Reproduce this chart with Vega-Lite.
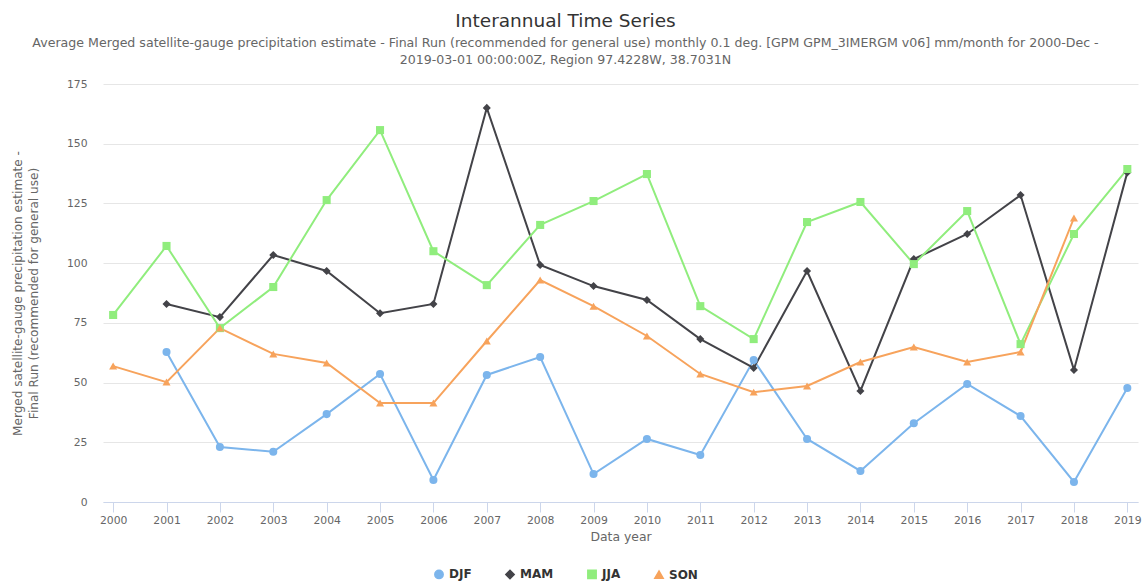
{
  "$schema": "https://vega.github.io/schema/vega-lite/v6.json",
  "autosize": "none",
  "width": 1035,
  "height": 418,
  "padding": {"left": 103, "top": 84, "right": 6, "bottom": 81},
  "background": "white",
  "config": {
    "font": "DejaVu Sans",
    "view": {"stroke": null}
  },
  "title": {
    "text": "Interannual Time Series",
    "subtitle": ["Average Merged satellite-gauge precipitation estimate - Final Run (recommended for general use) monthly 0.1 deg. [GPM GPM_3IMERGM v06] mm/month for 2000-Dec -", "2019-03-01 00:00:00Z, Region 97.4228W, 38.7031N"],
    "anchor": "middle",
    "dx": -55,
    "offset": 11,
    "font": "DejaVu Sans",
    "fontSize": 18.5,
    "fontWeight": "normal",
    "color": "#333333",
    "subtitleFont": "DejaVu Sans",
    "subtitleFontSize": 12.6,
    "subtitleColor": "#666666",
    "subtitlePadding": 7,
    "subtitleLineHeight": 17
  },
  "data": {
    "values": [
      {"year": 2001, "season": "DJF", "value": 62.8},
      {"year": 2002, "season": "DJF", "value": 23.0},
      {"year": 2003, "season": "DJF", "value": 21.0},
      {"year": 2004, "season": "DJF", "value": 36.8},
      {"year": 2005, "season": "DJF", "value": 53.6},
      {"year": 2006, "season": "DJF", "value": 9.2},
      {"year": 2007, "season": "DJF", "value": 53.2},
      {"year": 2008, "season": "DJF", "value": 60.7},
      {"year": 2009, "season": "DJF", "value": 11.7},
      {"year": 2010, "season": "DJF", "value": 26.4},
      {"year": 2011, "season": "DJF", "value": 19.7},
      {"year": 2012, "season": "DJF", "value": 59.4},
      {"year": 2013, "season": "DJF", "value": 26.4},
      {"year": 2014, "season": "DJF", "value": 13.0},
      {"year": 2015, "season": "DJF", "value": 33.0},
      {"year": 2016, "season": "DJF", "value": 49.4},
      {"year": 2017, "season": "DJF", "value": 36.0},
      {"year": 2018, "season": "DJF", "value": 8.4},
      {"year": 2019, "season": "DJF", "value": 47.7},
      {"year": 2001, "season": "MAM", "value": 82.9},
      {"year": 2002, "season": "MAM", "value": 77.4},
      {"year": 2003, "season": "MAM", "value": 103.4},
      {"year": 2004, "season": "MAM", "value": 96.7},
      {"year": 2005, "season": "MAM", "value": 79.0},
      {"year": 2006, "season": "MAM", "value": 82.9},
      {"year": 2007, "season": "MAM", "value": 165.0},
      {"year": 2008, "season": "MAM", "value": 99.2},
      {"year": 2009, "season": "MAM", "value": 90.4},
      {"year": 2010, "season": "MAM", "value": 84.6},
      {"year": 2011, "season": "MAM", "value": 68.2},
      {"year": 2012, "season": "MAM", "value": 56.1},
      {"year": 2013, "season": "MAM", "value": 96.7},
      {"year": 2014, "season": "MAM", "value": 46.5},
      {"year": 2015, "season": "MAM", "value": 101.7},
      {"year": 2016, "season": "MAM", "value": 112.2},
      {"year": 2017, "season": "MAM", "value": 128.5},
      {"year": 2018, "season": "MAM", "value": 55.3},
      {"year": 2019, "season": "MAM", "value": 138.0},
      {"year": 2000, "season": "JJA", "value": 78.3},
      {"year": 2001, "season": "JJA", "value": 107.2},
      {"year": 2002, "season": "JJA", "value": 72.8},
      {"year": 2003, "season": "JJA", "value": 90.0},
      {"year": 2004, "season": "JJA", "value": 126.4},
      {"year": 2005, "season": "JJA", "value": 155.7},
      {"year": 2006, "season": "JJA", "value": 105.0},
      {"year": 2007, "season": "JJA", "value": 90.8},
      {"year": 2008, "season": "JJA", "value": 116.0},
      {"year": 2009, "season": "JJA", "value": 126.0},
      {"year": 2010, "season": "JJA", "value": 137.3},
      {"year": 2011, "season": "JJA", "value": 82.0},
      {"year": 2012, "season": "JJA", "value": 68.2},
      {"year": 2013, "season": "JJA", "value": 117.2},
      {"year": 2014, "season": "JJA", "value": 125.6},
      {"year": 2015, "season": "JJA", "value": 99.6},
      {"year": 2016, "season": "JJA", "value": 121.8},
      {"year": 2017, "season": "JJA", "value": 66.1},
      {"year": 2018, "season": "JJA", "value": 112.2},
      {"year": 2019, "season": "JJA", "value": 139.4},
      {"year": 2000, "season": "SON", "value": 56.9},
      {"year": 2001, "season": "SON", "value": 50.2},
      {"year": 2002, "season": "SON", "value": 72.8},
      {"year": 2003, "season": "SON", "value": 62.0},
      {"year": 2004, "season": "SON", "value": 58.2},
      {"year": 2005, "season": "SON", "value": 41.4},
      {"year": 2006, "season": "SON", "value": 41.4},
      {"year": 2007, "season": "SON", "value": 67.4},
      {"year": 2008, "season": "SON", "value": 92.9},
      {"year": 2009, "season": "SON", "value": 82.0},
      {"year": 2010, "season": "SON", "value": 69.5},
      {"year": 2011, "season": "SON", "value": 53.6},
      {"year": 2012, "season": "SON", "value": 46.0},
      {"year": 2013, "season": "SON", "value": 48.6},
      {"year": 2014, "season": "SON", "value": 58.6},
      {"year": 2015, "season": "SON", "value": 64.9},
      {"year": 2016, "season": "SON", "value": 58.6},
      {"year": 2017, "season": "SON", "value": 62.8},
      {"year": 2018, "season": "SON", "value": 118.9}
    ]
  },
  "encoding": {
    "x": {
      "field": "year",
      "type": "quantitative",
      "scale": {"domain": [1999.81, 2019.2], "nice": false, "zero": false},
      "axis": {
        "title": "Data year",
        "values": [2000,2001,2002,2003,2004,2005,2006,2007,2008,2009,2010,2011,2012,2013,2014,2015,2016,2017,2018,2019],
        "format": "d",
        "grid": false,
        "domainColor": "#ccd6eb",
        "tickColor": "#ccd6eb",
        "tickSize": 10,
        "labelPadding": 2,
        "labelFontSize": 10.8,
        "labelColor": "#666666",
        "labelFont": "DejaVu Sans",
        "titleFont": "DejaVu Sans",
        "titleFontSize": 12.4,
        "titleFontWeight": "normal",
        "titleColor": "#666666",
        "titlePadding": 6
      }
    },
    "y": {
      "field": "value",
      "type": "quantitative",
      "scale": {"domain": [0, 175], "nice": false},
      "axis": {
        "title": ["Merged satellite-gauge precipitation estimate -", "Final Run (recommended for general use)"],
        "values": [0, 25, 50, 75, 100, 125, 150, 175],
        "domain": false,
        "ticks": false,
        "gridColor": "#e6e6e6",
        "labelPadding": 16,
        "labelFontSize": 10.8,
        "labelColor": "#666666",
        "labelFont": "DejaVu Sans",
        "titleFont": "DejaVu Sans",
        "titleFontSize": 12.1,
        "titleFontWeight": "normal",
        "titleColor": "#666666",
        "titlePadding": 26,
        "titleLineHeight": 16
      }
    },
    "color": {
      "field": "season",
      "type": "nominal",
      "scale": {"domain": ["DJF", "MAM", "JJA", "SON"], "range": ["#7cb5ec", "#434348", "#90ed7d", "#f7a35c"]},
      "legend": {
        "title": null,
        "orient": "none",
        "direction": "horizontal",
        "legendX": 330,
        "legendY": 484,
        "labelFont": "DejaVu Sans",
        "labelFontSize": 12,
        "labelFontWeight": "bold",
        "labelColor": "#333333",
        "symbolSize": 70,
        "columnPadding": 30
      }
    }
  },
  "layer": [
    {
      "mark": {"type": "line", "strokeWidth": 2},
      "encoding": {"detail": {"field": "season"}}
    },
    {
      "mark": {"type": "point", "filled": true, "opacity": 1, "size": 65},
      "encoding": {
        "shape": {
          "field": "season",
          "type": "nominal",
          "scale": {"domain": ["DJF", "MAM", "JJA", "SON"], "range": ["circle", "diamond", "square", "triangle-up"]},
          "legend": {
            "title": null,
            "orient": "none",
            "direction": "horizontal",
            "legendX": 330,
            "legendY": 484,
            "labelFont": "DejaVu Sans",
            "labelFontSize": 12,
            "labelFontWeight": "bold",
            "labelColor": "#333333",
            "symbolSize": 70,
            "columnPadding": 30
          }
        }
      }
    }
  ]
}
